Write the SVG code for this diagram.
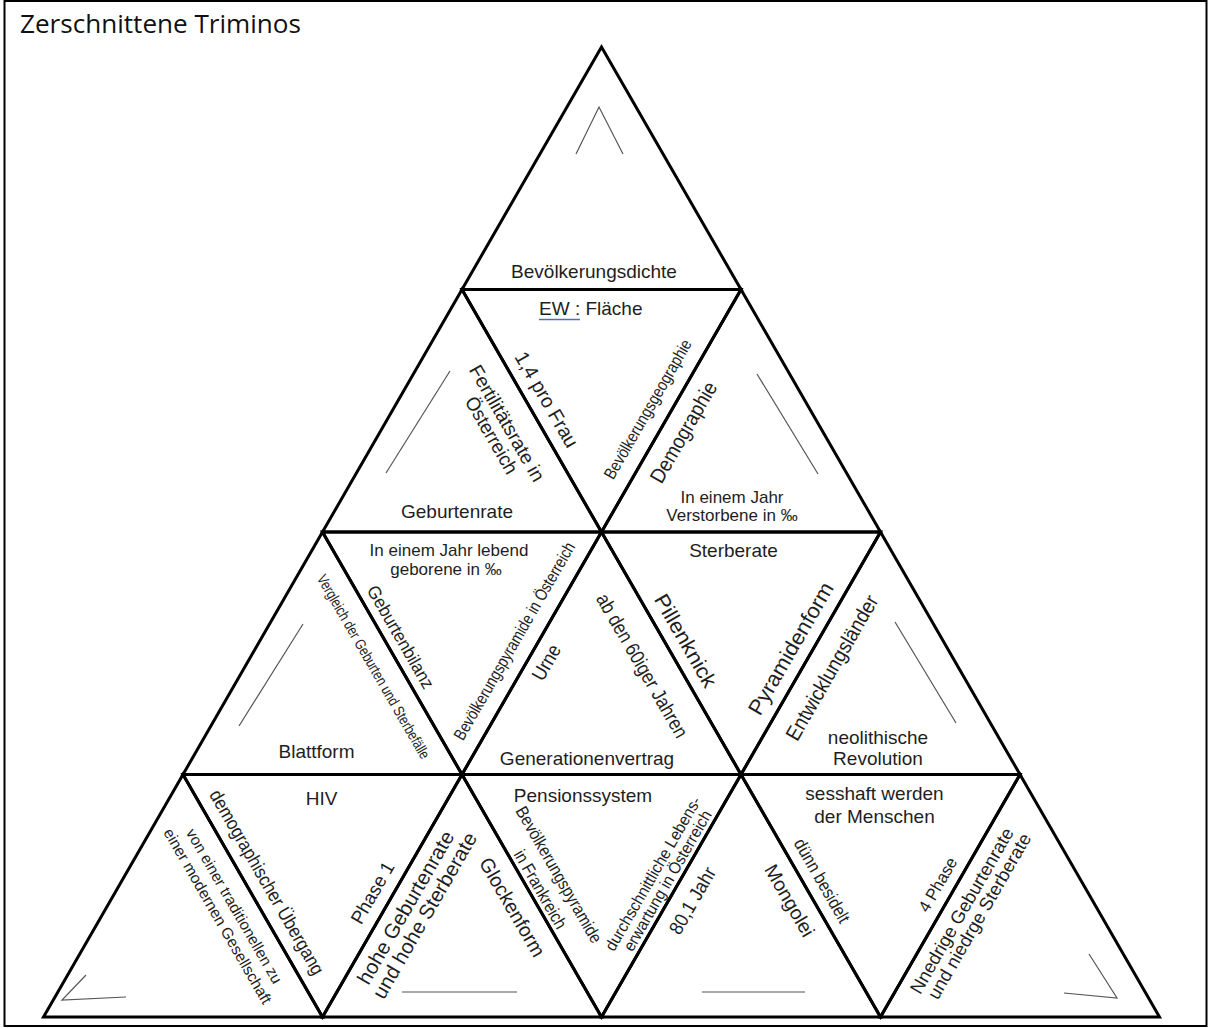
<svg xmlns="http://www.w3.org/2000/svg" width="1211" height="1028" viewBox="0 0 1211 1028">
<style>
.tri{fill:none;stroke:#000;stroke-width:3;stroke-linejoin:miter}
.t{font-family:"Liberation Sans",Arial,sans-serif;fill:#1e1e1e;text-anchor:middle}
.mark{fill:none;stroke:#555;stroke-width:1.2}
</style>
<rect x="0" y="0" width="1211" height="1028" fill="#fff"/>
<rect x="4.5" y="1" width="1202" height="1025" fill="none" stroke="#000" stroke-width="2"/>
<text x="20" y="33" font-family="'Open Sans','Liberation Sans',sans-serif" font-size="25" fill="#111" textLength="281" lengthAdjust="spacingAndGlyphs">Zerschnittene Triminos</text>

<g id="T1">
<polygon class="tri" points="601.5,47 462,289.5 741,289.5"/>
<polyline class="mark" points="576,154 599,107 623,154"/>
<text class="t" x="594" y="278" font-size="19">Bevölkerungsdichte</text>
</g>
<g id="T2">
<polygon class="tri" points="462,289.5 322.5,532 601.5,532"/>
<line class="mark" x1="450" y1="371" x2="386" y2="473"/>
<text class="t" x="457" y="518" font-size="19">Geburtenrate</text>
<text class="t" transform="translate(506.5 423.5) rotate(60)" y="6" font-size="19.5" textLength="131" lengthAdjust="spacingAndGlyphs">Fertilitätsrate in</text>
<text class="t" transform="translate(491 435.5) rotate(60)" y="6" font-size="19.5" textLength="86" lengthAdjust="spacingAndGlyphs">Österreich</text>
</g>
<g id="T3">
<polygon class="tri" points="462,289.5 741,289.5 601.5,532"/>
<text x="539" y="315" font-family="'Liberation Sans',Arial,sans-serif" font-size="19" fill="#1e1e1e">EW : Fläche</text>
<line x1="539" y1="319.5" x2="580" y2="319.5" stroke="#4472c4" stroke-width="1.5"/>
<text class="t" transform="translate(546 400) rotate(60)" y="6" font-size="20" textLength="107" lengthAdjust="spacingAndGlyphs">1,4 pro Frau</text>
<text class="t" transform="translate(648.5 409.5) rotate(-60)" y="5" font-size="17" textLength="158" lengthAdjust="spacingAndGlyphs">Bevölkerungsgeographie</text>
</g>
<g id="T4">
<polygon class="tri" points="741,289.5 601.5,532 880.5,532"/>
<line class="mark" x1="757" y1="374" x2="818" y2="474"/>
<text class="t" transform="translate(684 432.5) rotate(-60)" y="6.5" font-size="21" textLength="113" lengthAdjust="spacingAndGlyphs">Demographie</text>
<text class="t" x="732" y="503" font-size="17">In einem Jahr</text>
<text class="t" x="732" y="521" font-size="17">Verstorbene in ‰</text>
</g>
<g id="T5">
<polygon class="tri" points="322.5,532 183,774.5 462,774.5"/>
<line class="mark" x1="303" y1="624" x2="239" y2="726"/>
<text class="t" x="316.5" y="758" font-size="19">Blattform</text>
<text class="t" transform="translate(373 667) rotate(60)" y="4.5" font-size="15" textLength="210" lengthAdjust="spacingAndGlyphs">Vergleich der Geburten und Sterbefälle</text>
</g>
<g id="T6">
<polygon class="tri" points="322.5,532 601.5,532 462,774.5"/>
<text class="t" x="449" y="556" font-size="17">In einem Jahr lebend</text>
<text class="t" x="446" y="575" font-size="17">geborene in ‰</text>
<text class="t" transform="translate(400 637.5) rotate(60)" y="5.5" font-size="18" textLength="116" lengthAdjust="spacingAndGlyphs">Geburtenbilanz</text>
<text class="t" transform="translate(515 641.5) rotate(-60)" y="5" font-size="17" textLength="225" lengthAdjust="spacingAndGlyphs">Bevölkerungspyramide in Österreich</text>
</g>
<g id="T7">
<polygon class="tri" points="601.5,532 462,774.5 741,774.5"/>
<text class="t" transform="translate(547 662.7) rotate(-60)" y="6" font-size="20" textLength="38" lengthAdjust="spacingAndGlyphs">Urne</text>
<text class="t" transform="translate(641.5 666) rotate(60)" y="6" font-size="20" textLength="163" lengthAdjust="spacingAndGlyphs">ab den 60iger Jahren</text>
<text class="t" x="587" y="765" font-size="19">Generationenvertrag</text>
</g>
<g id="T8">
<polygon class="tri" points="601.5,532 880.5,532 741,774.5"/>
<text class="t" x="733.5" y="557" font-size="19">Sterberate</text>
<text class="t" transform="translate(685 641) rotate(60)" y="6.5" font-size="21" textLength="104" lengthAdjust="spacingAndGlyphs">Pillenknick</text>
<text class="t" transform="translate(791.5 649) rotate(-60)" y="6.5" font-size="21.5" textLength="149" lengthAdjust="spacingAndGlyphs">Pyramidenform</text>
</g>
<g id="T9">
<polygon class="tri" points="880.5,532 741,774.5 1020,774.5"/>
<line class="mark" x1="895" y1="622" x2="956" y2="723"/>
<text class="t" transform="translate(832.5 668) rotate(-60)" y="6.5" font-size="21" textLength="164" lengthAdjust="spacingAndGlyphs">Entwicklungsländer</text>
<text class="t" x="878" y="744" font-size="19">neolithische</text>
<text class="t" x="878" y="765" font-size="19">Revolution</text>
</g>
<g id="T10">
<polygon class="tri" points="183,774.5 43.5,1017 322.5,1017"/>
<polyline class="mark" points="86,975 62,1000 126,997"/>
<text class="t" transform="translate(233.5 906.5) rotate(60)" y="4.5" font-size="15.5" textLength="176" lengthAdjust="spacingAndGlyphs">von einer traditionellen zu</text>
<text class="t" transform="translate(217 916.5) rotate(60)" y="4.5" font-size="15.5" textLength="200" lengthAdjust="spacingAndGlyphs">einer modernen Gesellschaft</text>
</g>
<g id="T11">
<polygon class="tri" points="183,774.5 462,774.5 322.5,1017"/>
<text class="t" x="321.5" y="805" font-size="19">HIV</text>
<text class="t" transform="translate(266.5 882.5) rotate(60)" y="6" font-size="19" textLength="210" lengthAdjust="spacingAndGlyphs">demographischer Übergang</text>
<text class="t" transform="translate(373 893) rotate(-60)" y="6" font-size="19" textLength="68" lengthAdjust="spacingAndGlyphs">Phase 1</text>
</g>
<g id="T12">
<polygon class="tri" points="462,774.5 322.5,1017 601.5,1017"/>
<line class="mark" x1="402" y1="992" x2="517" y2="992"/>
<text class="t" transform="translate(406.5 908) rotate(-60)" y="6" font-size="20.5" textLength="173" lengthAdjust="spacingAndGlyphs">hohe Geburtenrate</text>
<text class="t" transform="translate(425.5 916) rotate(-60)" y="6" font-size="20.5" textLength="188" lengthAdjust="spacingAndGlyphs">und hohe Sterberate</text>
<text class="t" transform="translate(511.5 907.5) rotate(60)" y="6" font-size="20" textLength="111" lengthAdjust="spacingAndGlyphs">Glockenform</text>
</g>
<g id="T13">
<polygon class="tri" points="462,774.5 741,774.5 601.5,1017"/>
<text class="t" x="583" y="802" font-size="19">Pensionssystem</text>
<text class="t" transform="translate(558.5 875) rotate(60)" y="5.5" font-size="17.5" textLength="154.5" lengthAdjust="spacingAndGlyphs">Bevölkerungspyramide</text>
<text class="t" transform="translate(540 889.5) rotate(60)" y="5.5" font-size="17.5" textLength="88" lengthAdjust="spacingAndGlyphs">in Frankreich</text>
<text class="t" transform="translate(653.5 874) rotate(-60)" y="5" font-size="16.5" textLength="175" lengthAdjust="spacingAndGlyphs">durchschnittliche Lebens-</text>
<text class="t" transform="translate(668 881) rotate(-60)" y="5" font-size="16.5" textLength="159.5" lengthAdjust="spacingAndGlyphs">erwartung in Österreich</text>
</g>
<g id="T14">
<polygon class="tri" points="741,774.5 601.5,1017 880.5,1017"/>
<line class="mark" x1="702" y1="992" x2="805" y2="992"/>
<text class="t" transform="translate(693 901) rotate(-60)" y="6" font-size="19.5" textLength="74" lengthAdjust="spacingAndGlyphs">80,1 Jahr</text>
<text class="t" transform="translate(789 901) rotate(60)" y="6" font-size="19.5" textLength="80" lengthAdjust="spacingAndGlyphs">Mongolei</text>
</g>
<g id="T15">
<polygon class="tri" points="741,774.5 1020,774.5 880.5,1017"/>
<text class="t" x="874.5" y="800" font-size="19">sesshaft werden</text>
<text class="t" x="874.5" y="823" font-size="19">der Menschen</text>
<text class="t" transform="translate(821.5 881) rotate(60)" y="5.5" font-size="18" textLength="94" lengthAdjust="spacingAndGlyphs">dünn besidelt</text>
<text class="t" transform="translate(938.5 885) rotate(-60)" y="5" font-size="17" textLength="60" lengthAdjust="spacingAndGlyphs">4 Phase</text>
</g>
<g id="T16">
<polygon class="tri" points="1020,774.5 880.5,1017 1159.5,1017"/>
<polyline class="mark" points="1089,954 1117,998 1064,993"/>
<text class="t" transform="translate(962.5 911) rotate(-60)" y="5.5" font-size="18.5" textLength="188" lengthAdjust="spacingAndGlyphs">Nnedrige Geburtenrate</text>
<text class="t" transform="translate(980 916.5) rotate(-60)" y="5.5" font-size="18.5" textLength="188" lengthAdjust="spacingAndGlyphs">und niedrge Sterberate</text>
</g>
<g id="connectors"></g>
</svg>
